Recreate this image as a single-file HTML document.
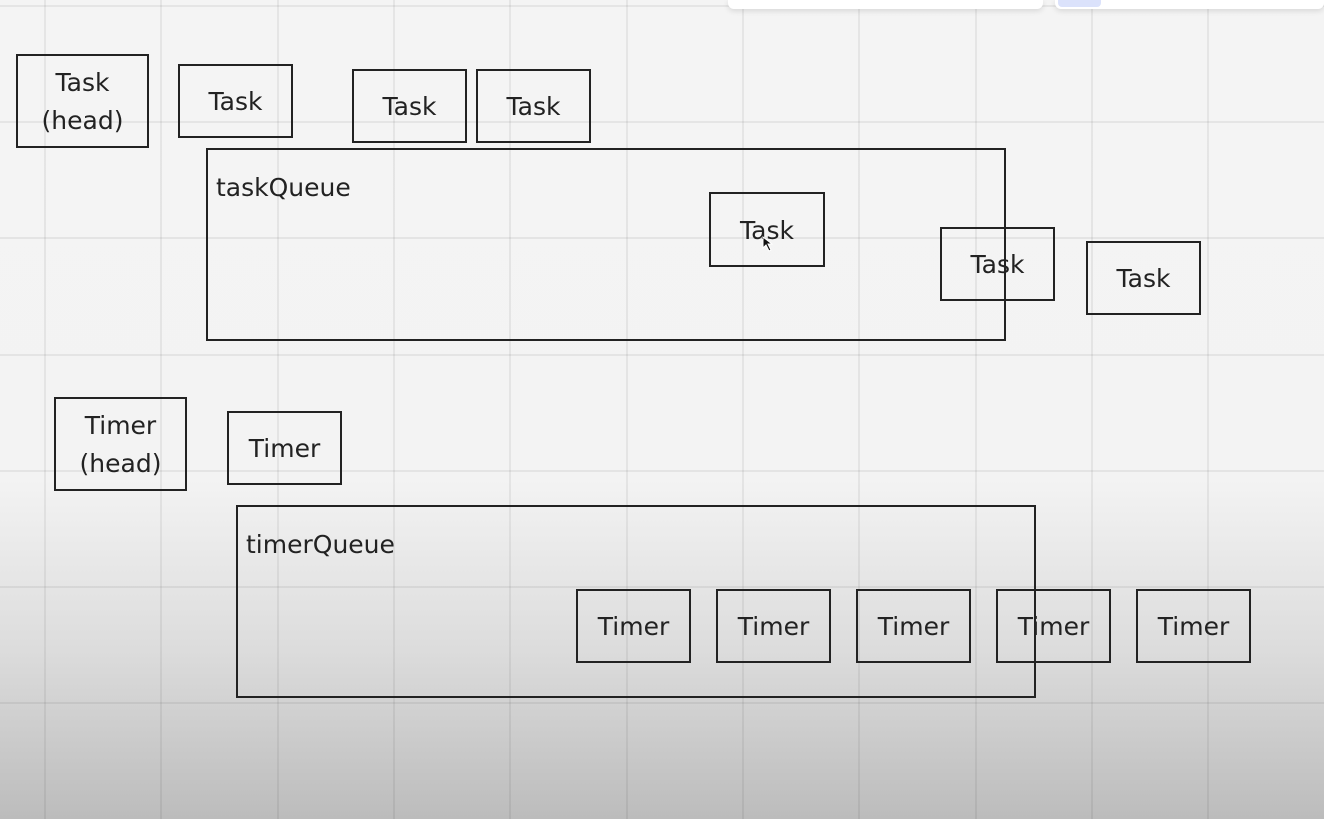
<!DOCTYPE html>
<html><head><style>
body{margin:0;width:1324px;height:819px;overflow:hidden;position:relative;font-family:"DejaVu Sans","Liberation Sans",sans-serif;
background:linear-gradient(to bottom,#f4f4f4 0,#f3f3f3 480px,#dcdcdc 650px,#bcbcbc 819px);}
.g{position:absolute;background:rgba(0,0,0,0.06)}
.b{position:absolute;border:2px solid #222;box-sizing:border-box;display:flex;align-items:center;justify-content:center;text-align:center;font-size:25px;color:#222;line-height:38px;padding-top:2px}
.q{position:absolute;border:2px solid #222;box-sizing:border-box;font-size:25px;color:#222;padding:23px 0 0 8px}
.p{position:absolute;background:#fff;border-radius:0 0 6px 6px;box-shadow:0 2px 6px rgba(0,0,0,.12)}
</style></head><body>
<div class="g" style="left:44px;top:0;width:2px;height:819px"></div>
<div class="g" style="left:160px;top:0;width:2px;height:819px"></div>
<div class="g" style="left:277px;top:0;width:2px;height:819px"></div>
<div class="g" style="left:393px;top:0;width:2px;height:819px"></div>
<div class="g" style="left:509px;top:0;width:2px;height:819px"></div>
<div class="g" style="left:626px;top:0;width:2px;height:819px"></div>
<div class="g" style="left:742px;top:0;width:2px;height:819px"></div>
<div class="g" style="left:858px;top:0;width:2px;height:819px"></div>
<div class="g" style="left:975px;top:0;width:2px;height:819px"></div>
<div class="g" style="left:1091px;top:0;width:2px;height:819px"></div>
<div class="g" style="left:1207px;top:0;width:2px;height:819px"></div>
<div class="g" style="top:5px;left:0;height:2px;width:1324px"></div>
<div class="g" style="top:121px;left:0;height:2px;width:1324px"></div>
<div class="g" style="top:237px;left:0;height:2px;width:1324px"></div>
<div class="g" style="top:354px;left:0;height:2px;width:1324px"></div>
<div class="g" style="top:470px;left:0;height:2px;width:1324px"></div>
<div class="g" style="top:586px;left:0;height:2px;width:1324px"></div>
<div class="g" style="top:702px;left:0;height:2px;width:1324px"></div>
<div class="p" style="left:728px;top:0;width:315px;height:9px"></div>
<div class="p" style="left:1055px;top:0;width:269px;height:9px"></div>
<div style="position:absolute;left:1058px;top:0;width:43px;height:7px;background:#dbe2fb;border-radius:0 0 4px 4px"></div>

<div class="q" style="left:206px;top:148px;width:800px;height:193px">taskQueue</div>
<div class="q" style="left:236px;top:505px;width:800px;height:193px">timerQueue</div>

<div class="b" style="left:16px;top:54px;width:133px;height:94px">Task<br>(head)</div>
<div class="b" style="left:178px;top:64px;width:115px;height:74px">Task</div>
<div class="b" style="left:352px;top:69px;width:115px;height:74px">Task</div>
<div class="b" style="left:476px;top:69px;width:115px;height:74px">Task</div>
<div class="b" style="left:709px;top:192px;width:116px;height:75px">Task</div>
<div class="b" style="left:940px;top:227px;width:115px;height:74px">Task</div>
<div class="b" style="left:1086px;top:241px;width:115px;height:74px">Task</div>

<div class="b" style="left:54px;top:397px;width:133px;height:94px">Timer<br>(head)</div>
<div class="b" style="left:227px;top:411px;width:115px;height:74px">Timer</div>
<div class="b" style="left:576px;top:589px;width:115px;height:74px">Timer</div>
<div class="b" style="left:716px;top:589px;width:115px;height:74px">Timer</div>
<div class="b" style="left:856px;top:589px;width:115px;height:74px">Timer</div>
<div class="b" style="left:996px;top:589px;width:115px;height:74px">Timer</div>
<div class="b" style="left:1136px;top:589px;width:115px;height:74px">Timer</div>
<svg style="position:absolute;left:762px;top:236px" width="12" height="16"><path d="M1 1 L1 12 L4 9 L7 15 L9 14 L6 8 L10 8 Z" fill="#111" stroke="#fff" stroke-width="1"/></svg>
</body></html>
